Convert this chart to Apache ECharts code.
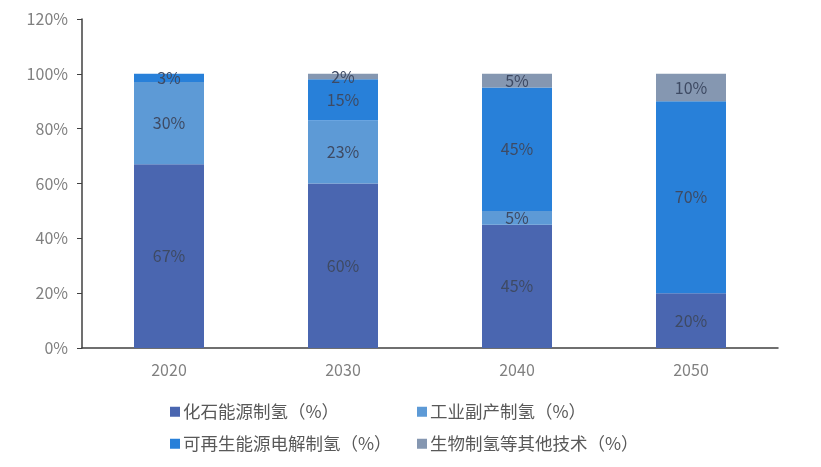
<!DOCTYPE html>
<html><head><meta charset="utf-8">
<script src="https://cdn.jsdelivr.net/npm/echarts@6/dist/echarts.min.js"></script>
<style>html,body{margin:0;padding:0;background:#fff}#c{width:821px;height:467px}</style>
</head><body><div id="c"></div>
<script>
const categories = ['2020','2030','2040','2050'];
const seriesNames = ['化石能源制氢（%）','工业副产制氢（%）','可再生能源电解制氢（%）','生物制氢等其他技术（%）'];
const fossil = [67,60,45,20];
const industrial = [30,23,5,0];
const renewable = [3,15,45,70];
const bio = [0,2,5,10];
const yTicks = [0,20,40,60,80,100,120];

const colors = ['#4a66b0','#5d9ad6','#2880d9','#8597b1'];
const datasets = [fossil, industrial, renewable, bio];
const font = '"Noto Sans CJK SC", sans-serif';

const chart = echarts.init(document.getElementById('c'));
const legendPos = [[165,398],[412,398],[165,430],[412,430]];
chart.setOption({
  animation:false,
  color: colors,
  grid:{left:82,right:43,top:19,bottom:119,containLabel:false},
  legend: seriesNames.map((n,i)=>({
    data:[n], left:legendPos[i][0], top:legendPos[i][1],
    icon:'rect', itemWidth:10, itemHeight:10, itemGap:4,
    textStyle:{fontSize:17.5, color:'#595959', fontFamily:font, padding:[0,0,0,-2]}
  })),
  xAxis:{type:'category', data:categories,
    axisLine:{lineStyle:{color:'#404040', width:1.5}},
    axisTick:{show:false},
    axisLabel:{fontSize:16, color:'#808080', margin:14, fontFamily:font}},
  yAxis:{type:'value', min:yTicks[0], max:yTicks[yTicks.length-1], interval:20,
    splitLine:{show:false},
    axisLine:{show:true, lineStyle:{color:'#404040', width:1.5}},
    axisTick:{show:true, length:5, lineStyle:{color:'#404040'}},
    axisLabel:{fontSize:16, color:'#808080', margin:14, fontFamily:font, formatter:v=>v+'%'}},
  series: datasets.map((d,i)=>({
    name:seriesNames[i], type:'bar', stack:'total', barWidth:70,
    data:d.map(v=>v===0?null:v),
    label:{show:true, position:'inside', formatter:p=>p.value+'%', fontSize:16, color:'#3e4a63', fontFamily:font},
    itemStyle:{color:colors[i]}
  }))
});
</script></body></html>
